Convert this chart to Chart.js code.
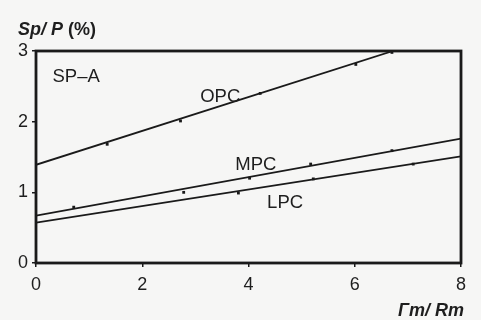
<!DOCTYPE html>
<html>
<head>
<meta charset="utf-8">
<script src="https://cdn.jsdelivr.net/npm/chart.js@4/dist/chart.umd.min.js"></script>
<style>
  html, body { margin: 0; padding: 0; background: #f6f6f5; }
  #wrap { width: 481px; height: 320px; }
</style>
</head>
<body>
<div id="wrap"><canvas id="c" width="481" height="320"></canvas></div>
<script>
// Axis ticks
const xTicks = [0, 2, 4, 6, 8];
const yTicks = [0, 1, 2, 3];

// Measured points, Sp/P (%) against Γm/Rm
const opcX = [1.34, 2.72, 4.22, 6.02, 6.70];
const opcY = [1.68, 2.01, 2.40, 2.81, 2.98];
const mpcX = [0.71, 2.78, 4.02, 5.17, 6.70];
const mpcY = [0.79, 1.00, 1.20, 1.40, 1.59];
const lpcX = [3.81, 5.22, 7.10];
const lpcY = [0.99, 1.19, 1.40];

// Fitted straight lines (end points)
const opcFitX = [0, 6.72];
const opcFitY = [1.39, 3.00];
const mpcFitX = [0, 8];
const mpcFitY = [0.67, 1.76];
const lpcFitX = [0, 8];
const lpcFitY = [0.57, 1.51];

const ink = '#1a1a1a';
const FONT = '"Liberation Sans", Arial, Helvetica, sans-serif';

function pts(xs, ys) { return xs.map((x, i) => ({ x: x, y: ys[i] })); }

function fitSet(xs, ys) {
  return { data: pts(xs, ys), showLine: true, borderColor: ink, borderWidth: 1.8,
           pointRadius: 0, fill: false };
}
function markSet(xs, ys) {
  return { data: pts(xs, ys), showLine: false, pointStyle: 'rect', pointRadius: 2,
           backgroundColor: ink, borderColor: ink, borderWidth: 0 };
}

// Curve names and the panel tag, anchored in data units
const curveLabels = [
  { text: 'SP\u2013A', x: 0.31, y: 2.56 },
  { text: 'OPC', x: 3.09, y: 2.28 },
  { text: 'MPC', x: 3.75, y: 1.32 },
  { text: 'LPC', x: 4.35, y: 0.78 }
];

const frame = {
  id: 'frame',
  afterDatasetsDraw(chart) {
    const { ctx, chartArea: a, scales } = chart;
    ctx.save();
    ctx.strokeStyle = ink;
    ctx.lineWidth = 2.8;
    ctx.strokeRect(a.left, a.top, a.right - a.left, a.bottom - a.top);

    ctx.fillStyle = '#1e1e1e';
    ctx.font = '18.5px ' + FONT;
    ctx.textBaseline = 'alphabetic';
    ctx.textAlign = 'left';
    curveLabels.forEach(l => {
      ctx.fillText(l.text, scales.x.getPixelForValue(l.x), scales.y.getPixelForValue(l.y));
    });

    // y-axis title at the top left
    ctx.font = 'italic bold 18px ' + FONT;
    const t1 = 'Sp/ P';
    ctx.fillText(t1, 18, 35);
    const w1 = ctx.measureText(t1).width;
    ctx.font = 'bold 18px ' + FONT;
    ctx.fillText(' (%)', 18 + w1, 35);

    // x-axis title at the bottom right
    ctx.font = 'italic bold 18px ' + FONT;
    ctx.textAlign = 'right';
    ctx.fillText('\u0393m/ Rm', 464, 316);
    ctx.restore();
  }
};

new Chart(document.getElementById('c'), {
  type: 'scatter',
  data: {
    datasets: [
      fitSet(opcFitX, opcFitY), markSet(opcX, opcY),
      fitSet(mpcFitX, mpcFitY), markSet(mpcX, mpcY),
      fitSet(lpcFitX, lpcFitY), markSet(lpcX, lpcY)
    ]
  },
  options: {
    responsive: false,
    animation: false,
    devicePixelRatio: 1,
    layout: { padding: { top: 51, right: 20, bottom: 0, left: 0 } },
    plugins: { legend: { display: false }, tooltip: { enabled: false } },
    scales: {
      x: {
        type: 'linear', min: 0, max: 8,
        afterBuildTicks: s => { s.ticks = xTicks.map(v => ({ value: v })); },
        afterFit: s => { s.height = 57; },
        ticks: { color: '#1e1e1e', font: { family: FONT, size: 18 }, padding: 7 },
        grid: { drawOnChartArea: false, tickLength: 4, color: ink, lineWidth: 1.5 },
        border: { display: false }
      },
      y: {
        type: 'linear', min: 0, max: 3,
        afterBuildTicks: s => { s.ticks = yTicks.map(v => ({ value: v })); },
        afterFit: s => { s.width = 36; },
        ticks: { color: '#1e1e1e', font: { family: FONT, size: 18 }, padding: 4 },
        grid: { drawOnChartArea: false, tickLength: 4, color: ink, lineWidth: 1.5 },
        border: { display: false }
      }
    }
  },
  plugins: [frame]
});
</script>
</body>
</html>
